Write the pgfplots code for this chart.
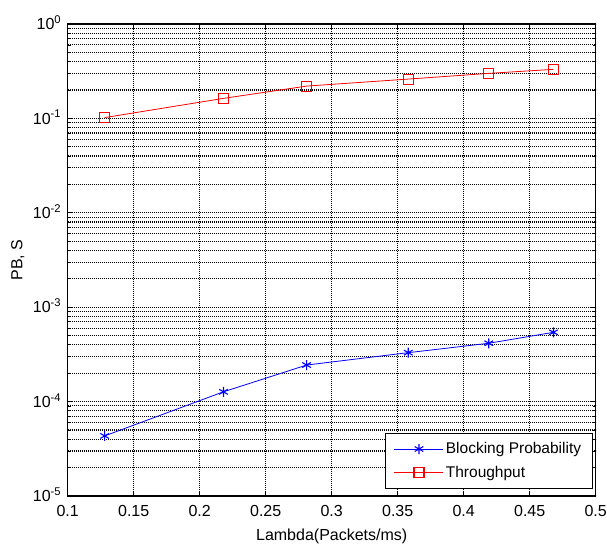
\documentclass[border=0pt]{standalone}
\usepackage{fontspec}
\setmainfont{Liberation Sans}
\usepackage{pgfplots}
\pgfplotsset{compat=1.18}
\begin{document}
\fontsize{16}{19}\selectfont
\begin{tikzpicture}
\useasboundingbox (-67.7pt,-51pt) rectangle (539.3pt,496pt);
\begin{axis}[
  at={(0,0)}, anchor=south west,
  scale only axis, width=528pt, height=472pt,
  xmin=0.1, xmax=0.5, ymode=log, ymin=1e-5, ymax=1,
  xtick={0.1,0.15,0.2,0.25,0.3,0.35,0.4,0.45,0.5},
  xticklabels={0.1,0.15,0.2,0.25,0.3,0.35,0.4,0.45,0.5},
  ytick={1e-5,1e-4,1e-3,1e-2,1e-1,1},
  yticklabels={10\textsuperscript{-5},10\textsuperscript{-4},10\textsuperscript{-3},10\textsuperscript{-2},10\textsuperscript{-1},10\textsuperscript{0}},
  minor ytick={2e-5,3e-5,4e-5,5e-5,6e-5,7e-5,8e-5,9e-5,
               2e-4,3e-4,4e-4,5e-4,6e-4,7e-4,8e-4,9e-4,
               2e-3,3e-3,4e-3,5e-3,6e-3,7e-3,8e-3,9e-3,
               2e-2,3e-2,4e-2,5e-2,6e-2,7e-2,8e-2,9e-2,
               2e-1,3e-1,4e-1,5e-1,6e-1,7e-1,8e-1,9e-1},
  grid=both,
  major grid style={black, line width=1.1pt, dash pattern=on 1.4pt off 0.6pt},
  minor grid style={black, line width=1.1pt, dash pattern=on 1.4pt off 0.6pt},
  tick align=inside,
  tick style={black, line width=0.8pt},
  major tick length=5pt, minor tick length=3pt,
  axis line style={black, line width=1.4pt},
  xticklabel style={font=\fontsize{16}{19}\selectfont, yshift=-4pt},
  yticklabel style={font=\fontsize{16}{19}\selectfont, anchor=base east, yshift=-5.7pt, xshift=-1pt},
  xlabel={Lambda(Packets/ms)},
  ylabel={PB, S},
  xlabel style={font=\fontsize{16}{19}\selectfont, at={(axis description cs:0.5,-0.0847)}, anchor=center},
  ylabel style={font=\fontsize{16}{19}\selectfont, at={(axis description cs:-0.0947,0.5)}, anchor=center},
  legend style={at={(1,0)}, anchor=south east, xshift=-3pt, yshift=7pt,
    draw=black, line width=1.1pt, fill=white,
    font=\fontsize{15.5}{18}\selectfont, cells={anchor=west}, row sep=6pt,
    inner xsep=9pt, inner ysep=7pt},
  legend image code/.code={\draw[mark repeat=2,mark phase=2,#1] plot coordinates {(0pt,0pt) (24.5pt,0pt) (49pt,0pt)};},
]
\addplot[blue, line width=0.8pt, mark=asterisk, mark size=5pt, mark options={line width=1.1pt}]
  coordinates {(0.128,4.33e-5) (0.218,1.27e-4) (0.281,2.44e-4) (0.358,3.3e-4) (0.419,4.15e-4) (0.468,5.42e-4)};
\addlegendentry{Blocking Probability}
\addplot[red, line width=0.8pt, mark=square, mark size=5pt, mark options={line width=1.1pt}]
  coordinates {(0.128,0.102) (0.218,0.163) (0.281,0.220) (0.358,0.261) (0.419,0.300) (0.468,0.331)};
\addlegendentry{Throughput}
\end{axis}
\end{tikzpicture}
\end{document}
